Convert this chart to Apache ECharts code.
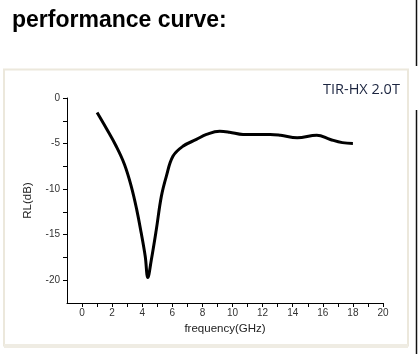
<!DOCTYPE html>
<html>
<head>
<meta charset="utf-8">
<script src="https://cdn.jsdelivr.net/npm/echarts@6/dist/echarts.min.js"></script>
<style>
    html, body { margin: 0; padding: 0; background: #fff; }
    #chart { width: 418px; height: 354px; }
</style>
</head>
<body>
<div id="chart"></div>
<script>
// 频率 (GHz) 与回波损耗 RL (dB)
const freq = [1.0, 1.6, 2.27, 2.82, 3.27, 3.64, 3.93, 4.2, 4.37, 4.6, 4.93, 5.27, 5.6, 6.04, 6.7, 7.6, 8.27, 9.15, 9.8, 10.7, 11.8, 12.5, 13.2, 14.3, 15.6, 16.5, 17.3, 18.0]
const rl = [-1.6, -3.3, -5.3, -7.3, -9.7, -12.3, -14.8, -17.4, -19.7, -17.8, -14.5, -10.8, -8.6, -6.4, -5.3, -4.55, -4.0, -3.65, -3.75, -4.0, -4.0, -4.0, -4.1, -4.37, -4.08, -4.55, -4.9, -5.0]

const xTicks = [0, 1, 2, 3, 4, 5, 6, 7, 8, 9, 10, 11, 12, 13, 14, 15, 16, 17, 18, 19, 20]
const xLabels = [0, 2, 4, 6, 8, 10, 12, 14, 16, 18, 20]
const yTicks = [0, -2.5, -5, -7.5, -10, -12.5, -15, -17.5, -20]
const yLabels = [0, -5, -10, -15, -20]

const title = 'performance curve:'
const tag = 'TIR-HX 2.0T'

let myChart = echarts.init(document.getElementById('chart'))

let option = {
    animation: false,
    backgroundColor: '#fff',
    grid: { left: 67, right: 35, top: 98, bottom: 51 },
    graphic: [
        {
            type: 'rect',
            shape: { x: 4, y: 69.5, width: 404, height: 276 },
            style: { fill: 'none', stroke: '#ece8dc', lineWidth: 2 }
        },
        {
            type: 'rect',
            shape: { x: 4, y: 344, width: 404, height: 4 },
            style: { fill: '#efece3' }
        },
        {
            type: 'line',
            shape: { x1: 416.5, y1: 0, x2: 416.5, y2: 66 },
            style: { stroke: '#111', lineWidth: 1.5 }
        },
        {
            type: 'line',
            shape: { x1: 416.5, y1: 110, x2: 416.5, y2: 354 },
            style: { stroke: '#111', lineWidth: 1.5 }
        },
        {
            type: 'text',
            left: 12,
            top: 9,
            style: {
                text: title,
                font: 'bold 23px "Liberation Sans", Arial, sans-serif',
                fill: '#000'
            }
        },
        {
            type: 'text',
            left: 323,
            top: 82,
            style: {
                text: tag,
                font: '14.5px "Open Sans", sans-serif',
                fill: '#1c2540'
            }
        }
    ],
    xAxis: {
        type: 'value',
        min: -1,
        max: 20,
        name: 'frequency(GHz)',
        nameLocation: 'middle',
        nameGap: 19,
        nameTextStyle: { fontFamily: 'Liberation Sans', fontSize: 11.5, color: '#222' },
        splitLine: { show: false },
        axisLine: { onZero: false, lineStyle: { color: '#000', width: 1 } },
        axisTick: { length: 4, customValues: xTicks, lineStyle: { color: '#000' } },
        axisLabel: {
            customValues: xLabels,
            margin: 5,
            fontFamily: 'Liberation Sans',
            fontSize: 10,
            color: '#333'
        }
    },
    yAxis: {
        type: 'value',
        min: -22.5,
        max: 0,
        name: 'RL(dB)',
        nameLocation: 'middle',
        nameGap: 33,
        nameTextStyle: { fontFamily: 'Liberation Sans', fontSize: 11.5, color: '#222' },
        splitLine: { show: false },
        axisLine: { show: true, onZero: false, lineStyle: { color: '#000', width: 1 } },
        axisTick: { length: 4, customValues: yTicks, lineStyle: { color: '#000' } },
        axisLabel: {
            customValues: yLabels,
            margin: 7,
            fontFamily: 'Liberation Sans',
            fontSize: 10,
            color: '#333'
        }
    },
    series: [
        {
            type: 'line',
            data: freq.map((f, i) => [f, rl[i]]),
            smooth: 0.4,
            showSymbol: false,
            lineStyle: { color: '#000', width: 3 }
        }
    ]
}

myChart.setOption(option)
</script>
</body>
</html>
